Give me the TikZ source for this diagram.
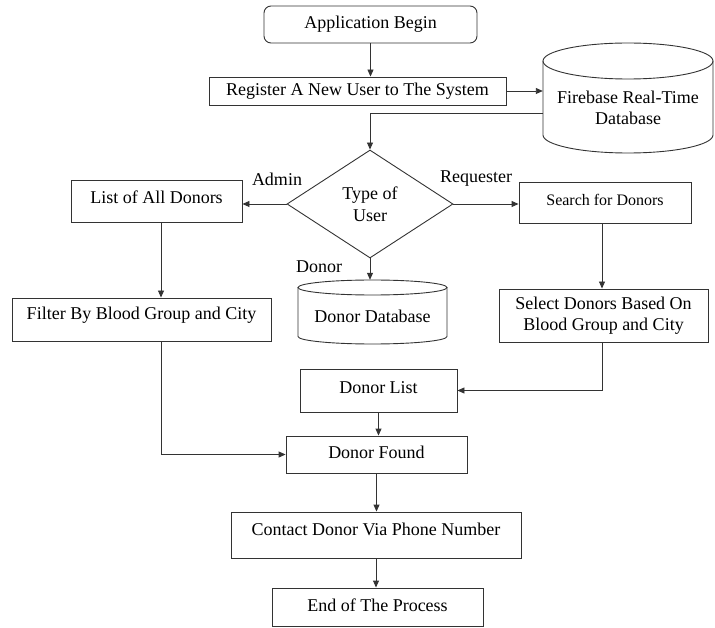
\documentclass[tikz,border=0pt]{standalone}
\usepackage{fontspec}
\setmainfont{Liberation Serif}
\usetikzlibrary{shapes.geometric,arrows.meta}
\begin{document}
\begin{tikzpicture}[x=1pt,y=-1pt,
  lw/.style={line width=0.9pt, draw=black!80},
  txt/.style={font=\fontsize{18}{21.6}\selectfont, text=black},
  box/.style={lw, txt, rectangle, inner sep=0pt, align=center},
  arr/.style={lw, -{Triangle[length=7pt,width=6pt]}},
  lbl/.style={txt, inner sep=0pt}
]
\useasboundingbox (0,0) rectangle (715,628);

% nodes
\node[box, minimum width=213pt, minimum height=37pt, rounded corners=7pt] (begin) at (370.5,24.5) {Application Begin};
\node[box, minimum width=297pt, minimum height=28pt] (reg) at (357.5,91) {Register A New User to The System};

% Firebase cylinder
\draw[lw] (628,61) ellipse [x radius=85pt, y radius=18pt];
\draw[lw] (543,61) -- (543,135) arc[start angle=180, end angle=360, x radius=85pt, y radius=18pt] -- (713,61);
\node[lbl, align=center, minimum width=170pt, minimum height=90pt] (fb) at (628,108) {Firebase Real-Time\\Database};
\coordinate (fbout) at (543,113);

\node[lw, txt, diamond, aspect=1.537, minimum width=166pt, minimum height=108pt, inner sep=0pt, align=center] (type) at (370,204) {Type of\\User};

\node[box, minimum width=171pt, minimum height=42pt, text depth=8pt] (list) at (156.5,201) {List of All Donors};
\node[box, font=\fontsize{16}{19.2}\selectfont, minimum width=172pt, minimum height=41pt, text depth=6pt] (search) at (605,202.5) {Search for Donors};
\node[box, minimum width=209pt, minimum height=53pt] (select) at (603.5,315.5) {Select Donors Based On\\Blood Group and City};
\node[box, minimum width=259pt, minimum height=43pt, text depth=13pt] (filter) at (141.5,319.5) {Filter By Blood Group and City};

% Donor database cylinder
\draw[lw] (372.5,287.5) ellipse [x radius=74.5pt, y radius=7.5pt];
\draw[lw] (298,287.5) -- (298,336.5) arc[start angle=180, end angle=360, x radius=74.5pt, y radius=7.5pt] -- (447,287.5);
\node[lbl, minimum width=149pt, minimum height=72pt] (ddb) at (372.5,316) {Donor Database};

\node[box, minimum width=157pt, minimum height=43pt, text depth=5pt] (dlist) at (378.5,390.5) {Donor List};
\node[box, minimum width=181pt, minimum height=37pt, text depth=4pt] (found) at (376.5,454.5) {Donor Found};
\node[box, minimum width=290pt, minimum height=46pt, text depth=12pt] (contact) at (376,535) {Contact Donor Via Phone Number};
\node[box, minimum width=211pt, minimum height=38pt, text depth=4pt] (end) at (377.5,607) {End of The Process};

% labels
\node[lbl] (ladmin) at (277,179) {Admin};
\node[lbl] (lreq) at (476,179) {Requester};
\node[lbl] (ldonor) at (319,267) {Donor};

% connectors
\draw[arr] (begin.south) -- (begin.south |- reg.north);
\draw[arr] (reg.east) -- (reg.east -| fb.west);
\draw[arr] (fbout) -| (type.north);
\draw[arr] (type.west) -- (type.west -| list.east);
\draw[arr] (type.east) -- (type.east -| search.west);
\draw[arr] (type.south) -- (type.south |- ddb.north);
\draw[arr] ([xshift=4.5pt]list.south) -- ([xshift=4.5pt]list.south |- filter.north);
\draw[arr] ([xshift=4.5pt]list.south |- filter.south) |- (found.west);
\draw[arr] ([xshift=-3pt]search.south) -- ([xshift=-3pt]search.south |- select.north);
\draw[arr] ([xshift=-3pt]search.south |- select.south) |- (dlist.east);
\draw[arr] (dlist.south) -- (dlist.south |- found.north);
\draw[arr] (found.south) -- (found.south |- contact.north);
\draw[arr] (contact.south) -- (contact.south |- end.north);
\end{tikzpicture}
\end{document}
